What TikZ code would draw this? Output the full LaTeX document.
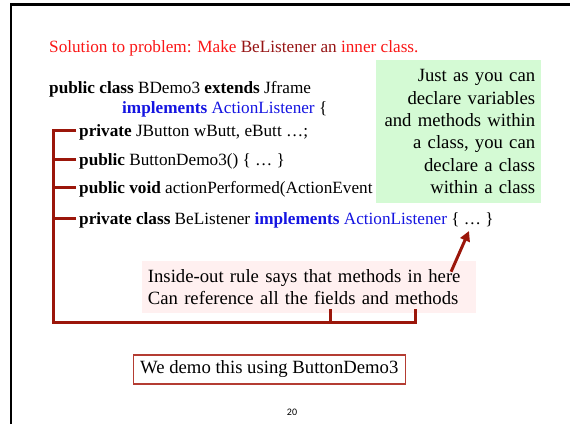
\documentclass[tikz,border=0pt]{standalone}
\usepackage{fontspec}
\setmainfont{Liberation Serif}
\newfontfamily\slidenumfont{Carlito}
\usetikzlibrary{arrows.meta}
\usetikzlibrary{positioning}

\definecolor{titlered}{RGB}{250,22,22}
\definecolor{darkred}{RGB}{150,20,20}
\definecolor{kwblue}{RGB}{20,20,225}
\definecolor{bracketred}{RGB}{155,22,10}
\definecolor{notegreen}{RGB}{212,250,212}
\definecolor{rulepink}{RGB}{255,240,240}
\definecolor{demoframe}{RGB}{180,60,50}

\begin{document}
\begin{tikzpicture}[x=1pt,y=-1pt,
codenode/.style={anchor=base west, inner sep=0pt, font=\fontsize{17.2}{20.6}\selectfont},
notenode/.style={fill=notegreen, anchor=north west, text width=153pt, inner xsep=6pt, inner ysep=0pt, minimum height=143pt, align=right, font=\fontsize{18.7}{22.4}\selectfont},
rulenode/.style={fill=rulepink, anchor=north west, text width=322pt, inner xsep=6pt, inner ysep=0pt, minimum height=52pt, align=left, font=\fontsize{18.7}{22}\selectfont},
demonode/.style={draw=demoframe, line width=1.2pt, anchor=east, inner xsep=7pt, minimum height=29pt, font=\fontsize{18.7}{22.4}\selectfont},
bracket/.style={draw=bracketred, line width=3pt},
]
\useasboundingbox (0,0) rectangle (570,424);
% slide frame
\draw[line width=2.4pt] (11,424) -- (11,4.5) -- (570,4.5);

%Nodes
\node[codenode] (title) at (49,52) {\color{titlered}Solution to problem: Make \textcolor{darkred}{BeListener an} inner class.};
\node[codenode] (classhead) at (49,93) {\textbf{public class} BDemo3 \textbf{extends} Jframe};
\node[codenode] (impl) at (122,113) {\textcolor{kwblue}{\textbf{implements} ActionListener} \{};
\node[codenode] (fields) at (79,136) {\textbf{private} JButton wButt, eButt …;};
\node[codenode] (ctor) at (79,165) {\textbf{public} ButtonDemo3() \{ … \}};
\node[codenode] (action) at (79,193) {\textbf{public void} actionPerformed(ActionEvent};
\node[codenode] (innercls) at (79,224) {\textbf{private class} BeListener \textcolor{kwblue}{\textbf{implements} ActionListener} \{ … \}};

\node[notenode] (note) at (376,60) {Just as you can\\declare variables\\and methods within\\a class, you can\\declare a class\\within a class};
\node[rulenode] (rule) at (141.7,260.7) {Inside-out rule says that methods in here\\Can reference all the fields and methods};
\node[demonode] (demo) at (406,369.5) {We demo this using ButtonDemo3};
\node[font=\slidenumfont\fontsize{10}{12}\selectfont] (pagenum) at (292,412) {20};

\coordinate (brCorner) at (53,322);
\coordinate (brEnd) at (415,309);
\coordinate (brTick) at (330,309);
\coordinate (dots) at (469,231);

%Lines
\draw[bracket] ([xshift=-3pt,yshift=6pt]fields.base west) -| (brCorner) -| (brEnd);
\draw[bracket] (brTick) -- (brTick |- brCorner);
\foreach \n in {ctor,action,innercls}
  \draw[bracket] ([xshift=-3pt,yshift=6pt]\n.base west) -- +(-23,0);
\draw[bracket,-{Triangle[length=10pt,width=10pt]}] ([xshift=-25pt,yshift=-11pt]rule.north east) -- (dots);

\end{tikzpicture}
\end{document}
